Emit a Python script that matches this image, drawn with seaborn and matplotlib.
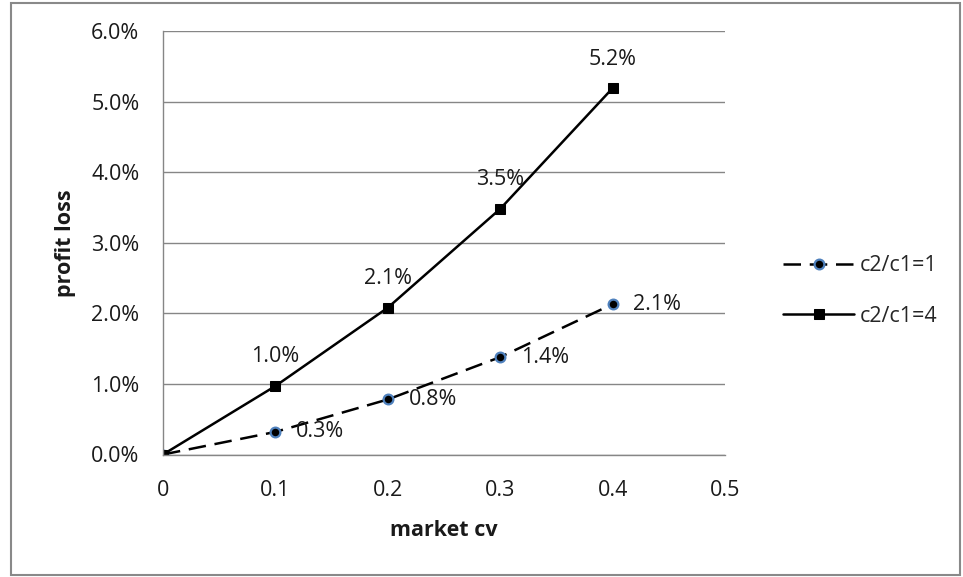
import matplotlib
matplotlib.use("Agg")
import matplotlib.pyplot as plt
from matplotlib.patches import Rectangle
from matplotlib.ticker import PercentFormatter, MultipleLocator
import numpy as np
import pandas as pd
import seaborn as sns

# Data: profit loss versus market coefficient of variation
market_cv = [0.0, 0.1, 0.2, 0.3, 0.4]
loss_ratio1 = [0.0, 0.0032, 0.0078, 0.0138, 0.0213]
loss_ratio4 = [0.0, 0.0097, 0.0208, 0.0348, 0.0519]
series_names = ["c2/c1=1", "c2/c1=4"]
x_tick_labels = ["0", "0.1", "0.2", "0.3", "0.4", "0.5"]

sns.set_theme(style="white")
plt.rcParams["font.family"] = ["Open Sans", "DejaVu Sans"]

TXT = "#1a1a1a"
FS = 15.5

fig = plt.figure(figsize=(9.63, 5.77), dpi=100)
ax = fig.add_axes([163 / 963, 1 - 454.5 / 577, (725 - 163) / 963, (454.5 - 31) / 577])

df1 = pd.DataFrame({"cv": market_cv, "loss": loss_ratio1})
df4 = pd.DataFrame({"cv": market_cv, "loss": loss_ratio4})

sns.lineplot(data=df1, x="cv", y="loss", ax=ax, color="black", lw=1.8,
             linestyle=(0, (7, 3.5)), marker="o", markersize=7,
             markerfacecolor="black", markeredgecolor="#4F81BD",
             markeredgewidth=1.6, label=series_names[0])
sns.lineplot(data=df4, x="cv", y="loss", ax=ax, color="black", lw=1.8,
             marker="s", markersize=7, markerfacecolor="black",
             markeredgecolor="black", label=series_names[1])

# Data labels
for x, y in zip(market_cv[1:], loss_ratio1[1:]):
    ax.annotate(f"{y * 100:.1f}%", (x, y), xytext=(15, 0),
                textcoords="offset points", ha="left", va="center",
                fontsize=FS, color=TXT)
for x, y in zip(market_cv[1:], loss_ratio4[1:]):
    ax.annotate(f"{y * 100:.1f}%", (x, y), xytext=(0, 21),
                textcoords="offset points", ha="center", va="center",
                fontsize=FS, color=TXT)

ax.set_xlim(0, 0.5)
ax.set_ylim(0, 0.06)
ax.yaxis.set_major_locator(MultipleLocator(0.01))
ax.yaxis.set_major_formatter(PercentFormatter(1.0, decimals=1))
ax.set_xticks([0, 0.1, 0.2, 0.3, 0.4, 0.5])
ax.set_xticklabels(x_tick_labels)

ax.grid(axis="y", color="#868686", lw=1.0)
ax.grid(axis="x", visible=False)
ax.set_axisbelow(True)
for side in ["top", "right"]:
    ax.spines[side].set_visible(False)
for side in ["left", "bottom"]:
    ax.spines[side].set_color("#868686")
    ax.spines[side].set_linewidth(1.0)

ax.tick_params(axis="both", length=0, labelsize=FS, labelcolor=TXT)
ax.tick_params(axis="y", pad=17)
ax.tick_params(axis="x", pad=18)

ax.set_xlabel("market cv", fontsize=15.5, fontweight="bold", color=TXT, va="center")
ax.set_ylabel("profit loss", fontsize=15.5, fontweight="bold", color=TXT, va="center")
ax.xaxis.set_label_coords(444 / 963, 1 - 530 / 577, transform=fig.transFigure)
ax.yaxis.set_label_coords(65 / 963, 1 - 243 / 577, transform=fig.transFigure)

ax.legend(loc="center left", bbox_to_anchor=(783 / 963, 1 - 291 / 577),
          bbox_transform=fig.transFigure, frameon=False, fontsize=FS,
          handlelength=3.3, handletextpad=0.25, labelspacing=1.35,
          borderpad=0, borderaxespad=0)

# Chart border
fig.patches.append(Rectangle((11 / 963, 2 / 577), 949 / 963, 572 / 577,
                             transform=fig.transFigure, fill=False,
                             edgecolor="#898989", lw=1.5))

fig.savefig("out.png", dpi=100)
